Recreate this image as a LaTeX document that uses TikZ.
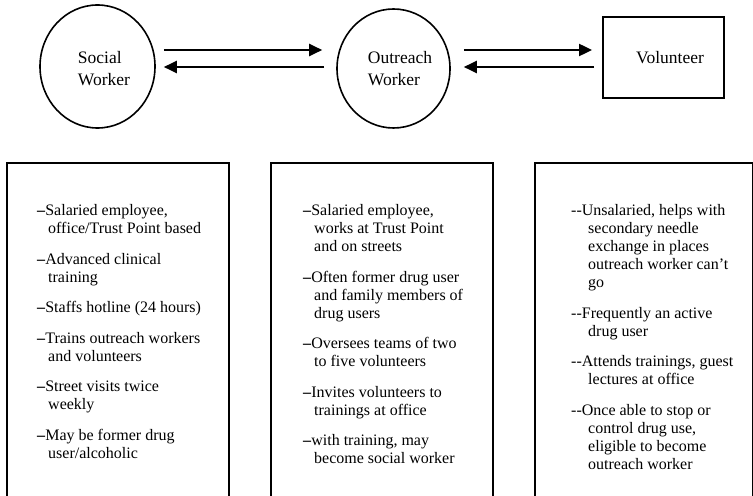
\documentclass[tikz,border=0pt]{standalone}
\usepackage{fontspec}
\setmainfont{Liberation Serif}
\usetikzlibrary{arrows.meta,shapes.geometric}
\newcommand\indA{\hspace*{11bp}}
\newcommand\indB{\hspace*{17bp}}
\newcommand\dsh{\textbf{--}}
\newcommand\ddsh{{-}{-}}
\begin{document}
\begin{tikzpicture}[x=1bp,y=-1bp,
  oval/.style={draw,ellipse,line width=1.6bp,inner sep=0pt},
  toptext/.style={align=left,inner sep=0pt,font=\fontsize{17.5bp}{22bp}\selectfont},
  bodytext/.style={align=left,inner sep=0pt,anchor=north west,font=\fontsize{16bp}{18bp}\selectfont},
  colbox/.style={draw,line width=2bp,anchor=north west,minimum width=222bp,minimum height=360bp,inner sep=0pt},
  arr/.style={line width=2bp,-{Triangle[length=13bp,width=12bp]}}]
\useasboundingbox (0,0) rectangle (753,496);
\clip (0,0) rectangle (753,496);
% top row
\node[oval,minimum width=115bp,minimum height=123bp] (sw) at (97.5,66.5) {};
\node[toptext] (swt) at (104,69) {Social\\Worker};
\node[oval,minimum width=113bp,minimum height=119bp] (ow) at (393.5,68.5) {};
\node[toptext] (owt) at (400,69) {Outreach\\Worker};
\node[draw,line width=1.8bp,minimum width=121bp,minimum height=81bp,inner sep=0pt] (vb) at (663.5,57.5) {};
\node[toptext] (vbt) at (670,58) {Volunteer};
% arrows
\draw[arr] ([xshift=8bp]sw.east |- 0,50) -- ([xshift=-14bp]ow.west |- 0,50);
\draw[arr] ([xshift=-12bp]ow.west |- 0,67) -- ([xshift=8bp]sw.east |- 0,67);
\draw[arr] ([xshift=13bp]ow.east |- 0,50) -- ([xshift=-10bp]vb.west |- 0,50);
\draw[arr] ([xshift=-8bp]vb.west |- 0,67) -- ([xshift=13bp]ow.east |- 0,67);
% lower boxes
\node[colbox] (b1) at (6,162) {};
\node[colbox] (b2) at (270,162) {};
\node[colbox,minimum width=218bp] (b3) at (534,162) {};
\node[bodytext] (t1) at (37,204.5) {%
\dsh Salaried employee,\\
\indA office/Trust Point based\\[12.5bp]
\dsh Advanced clinical\\
\indA training\\[12.5bp]
\dsh Staffs hotline (24 hours)\\[12.5bp]
\dsh Trains outreach workers\\
\indA and volunteers\\[12.5bp]
\dsh Street visits twice\\
\indA weekly\\[12.5bp]
\dsh May be former drug\\
\indA user/alcoholic};
\node[bodytext] (t2) at (303,204.5) {%
\dsh Salaried employee,\\
\indA works at Trust Point\\
\indA and on streets\\[12.5bp]
\dsh Often former drug user\\
\indA and family members of\\
\indA drug users\\[12.5bp]
\dsh Oversees teams of two\\
\indA to five volunteers\\[12.5bp]
\dsh Invites volunteers to\\
\indA trainings at office\\[12.5bp]
\dsh with training, may\\
\indA become social worker};
\node[bodytext] (t3) at (571,204.5) {%
\ddsh Unsalaried, helps with\\
\indB secondary needle\\
\indB exchange in places\\
\indB outreach worker can’t\\
\indB go\\[12.5bp]
\ddsh Frequently an active\\
\indB drug user\\[12.5bp]
\ddsh Attends trainings, guest\\
\indB lectures at office\\[12.5bp]
\ddsh Once able to stop or\\
\indB control drug use,\\
\indB eligible to become\\
\indB outreach worker};
\end{tikzpicture}
\end{document}
